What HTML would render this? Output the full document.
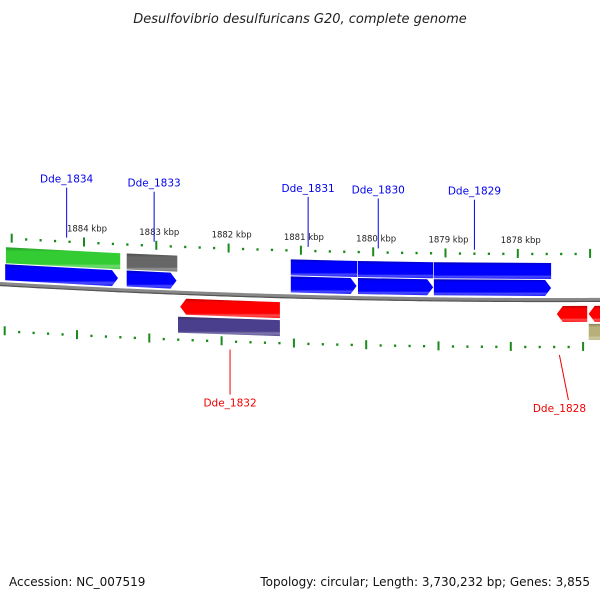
<!DOCTYPE html>
<html><head><meta charset="utf-8"><style>
body{margin:0;background:#fff}
svg{display:block;font-family:"DejaVu Sans","Liberation Sans",sans-serif}
</style></head><body>
<svg id="map" width="600" height="600" viewBox="0 0 600 600">
<defs>
<linearGradient id="gshade" x1="0" y1="0" x2="0" y2="1">
<stop offset="0" stop-color="#000" stop-opacity="0.25"/>
<stop offset="0.2" stop-color="#000" stop-opacity="0"/>
<stop offset="0.75" stop-color="#fff" stop-opacity="0"/>
<stop offset="0.85" stop-color="#fff" stop-opacity="0.3"/>
<stop offset="1" stop-color="#fff" stop-opacity="0.1"/>
</linearGradient>
</defs>
<text x="300" y="23" text-anchor="middle" font-size="13" font-style="italic" fill="#222">Desulfovibrio desulfuricans G20, complete genome</text>
<text x="9" y="586" font-size="12" fill="#111">Accession: NC_007519</text>
<text x="590" y="586" text-anchor="end" font-size="12" fill="#111">Topology: circular; Length: 3,730,232 bp; Genes: 3,855</text>
<g id="ticks"></g><g id="genes"></g><g id="labels"></g>
</svg>
<script>
// data
const tickKbp = [1884, 1883, 1882, 1881, 1880, 1879, 1878];
const geneNames = ["Dde_1834a","Dde_1834","Dde_1833a","Dde_1833","Dde_1832","Dde_1832a","Dde_1831a","Dde_1831","Dde_1830a","Dde_1830","Dde_1829a","Dde_1829","Dde_1828","Dde_1827","Dde_1827a"];
const geneStart = [1885.08,1885.09,1883.41,1883.41,1882.67,1882.70,1881.14,1881.14,1880.21,1880.21,1879.16,1879.16,1877.46,1877.02,1877.02];
const geneEnd   = [1883.50,1883.53,1882.71,1882.72,1881.29,1881.29,1880.22,1880.23,1879.17,1879.17,1877.54,1877.54,1877.04,1876.80,1876.80];
const geneLane  = [0,1,0,1,2,3,0,1,0,1,0,1,2,2,3];
const geneDir   = [0,1,0,1,-1,0,0,1,0,1,0,1,-1,-1,0];
const geneColor = ["#33cc33","#0000ff","#666666","#0000ff","#ff0000","#4a3f8c","#0000ff","#0000ff","#0000ff","#0000ff","#0000ff","#0000ff","#ff0000","#ff0000","#b8b07a"];
const labelText = ["Dde_1834","Dde_1833","Dde_1831","Dde_1830","Dde_1829","Dde_1832","Dde_1828"];
const labelKbp  = [1884.24,1883.03,1880.90,1879.93,1878.60,1881.98,1877.30];
const labelSide = [1,1,1,1,1,-1,-1];

const NS="http://www.w3.org/2000/svg";
const X = k => 84 + (1884 - k) * 72.3;
const yb = x => 300 - (x - 550) * (x - 550) / 18900;
const laneOff = [-29, -12, 14, 32];
function mk(t, a, p){const e=document.createElementNS(NS,t);for(const k in a)e.setAttribute(k,a[k]);(p||document.getElementById('map')).appendChild(e);return e;}

// backbone
let d="";for(let x=-5;x<=605;x+=5){d+=(x==-5?"M":"L")+x+","+yb(x).toFixed(2);}
const bb=mk("path",{d:d,fill:"none",stroke:"#888",  "stroke-width":4});


const bb2=mk("path",{d:d,fill:"none",stroke:"#555","stroke-width":1.2,transform:"translate(0,1.5)"});



// ticks
const tg=document.getElementById('ticks');
for(let i=-10;i<=90;i++){
  const k=1885-i*0.2, x=X(k);
  if(x<0||x>600)continue;
  const major=Math.abs(Math.round(k)-k)<1e-6;
  const yt=yb(x)-46;
  const t=mk("line",{x1:x,x2:x,y1:yt-(major?5:1.2),y2:yt+(major?4:1.2),stroke:"#1a8a1a","stroke-width":major?2:2.2},tg);
  
  
  const xb=x-7, ybt=yb(xb)+47;
  const b=mk("line",{x1:xb,x2:xb,y1:ybt-(major?5:1.2),y2:ybt+(major?4:1.2),stroke:"#1a8a1a","stroke-width":major?2:2.2},tg);
  
  
}
tickKbp.forEach(k=>{
  const x=X(k)+3;
  const t=mk("text",{x:x,y:yb(x)-57,"text-anchor":"middle","font-size":8.5,fill:"#222"},tg);
  t.textContent=k+" kbp";
  
  
});

// genes
const gg=document.getElementById('genes');
geneNames.forEach((n,i)=>{
  const x1=Math.max(X(geneStart[i]),-2), x2=Math.min(X(geneEnd[i]),602);
  const off=laneOff[geneLane[i]], h=8;
  const a=6;
  const p=[];
  if(geneDir[i]===1){
    p.push([x1,yb(x1)+off-h],[x2-a,yb(x2)+off-h],[x2,yb(x2)+off],[x2-a,yb(x2)+off+h],[x1,yb(x1)+off+h]);
  } else if(geneDir[i]===-1){
    p.push([x1+a,yb(x1)+off-h],[x2,yb(x2)+off-h],[x2,yb(x2)+off+h],[x1+a,yb(x1)+off+h],[x1,yb(x1)+off]);
  } else {
    p.push([x1,yb(x1)+off-h],[x2,yb(x2)+off-h],[x2,yb(x2)+off+h],[x1,yb(x1)+off+h]);
  }
  const pts=p.map(q=>q[0].toFixed(1)+","+q[1].toFixed(1)).join(" ");
  const g=mk("polygon",{points:pts,fill:geneColor[i]},gg);
  
  
  const s=mk("polygon",{points:pts,fill:"url(#gshade)"},gg);
  
  
});

// labels
const lg=document.getElementById('labels');
labelText.forEach((t,i)=>{
  const x=X(labelKbp[i]);
  const col=labelSide[i]>0?"#0000ee":"#ee0000";
  let y1,y2,ty,tx;
  if(labelSide[i]>0){y2=yb(x)-50;y1=y2-50;ty=y1-5;tx=x;}
  else{y1=yb(x)+55;y2=y1+45;ty=y2+12;tx=x-(i===6?9:0);}
  const ln=mk("line",{x1:tx,y1:y1,x2:x,y2:y2,stroke:col,"stroke-width":1},lg);
  
  
  const tt=mk("text",{x:tx,y:ty,"text-anchor":"middle","font-size":10.5,fill:col},lg);
  tt.textContent=t;
  
  
});
</script>
</body></html>
